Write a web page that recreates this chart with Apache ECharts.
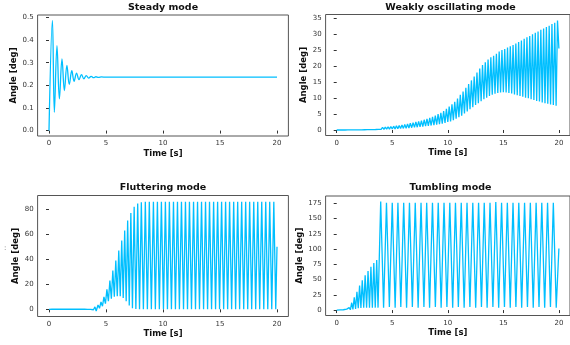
<!DOCTYPE html>
<html>
<head>
<meta charset="utf-8">
<script src="https://cdn.jsdelivr.net/npm/echarts@6/dist/echarts.min.js"></script>
<style>
  html, body { margin: 0; padding: 0; background: #fff; }
  #chart { width: 570px; height: 345px; }
</style>
</head>
<body>
<div id="chart"></div>
<script>
// panel titles, in order: top-left, top-right, bottom-left, bottom-right
const titles = ['Steady mode', 'Weakly oscillating mode', 'Fluttering mode', 'Tumbling mode']

// tick labels
const timeTicks = [0, 5, 10, 15, 20]
const steadyTicks = [0, 0.1, 0.2, 0.3, 0.4, 0.5]
const weakTicks = [0, 5, 10, 15, 20, 25, 30, 35]
const flutterTicks = [0, 20, 40, 60, 80]
const tumbleTicks = [0, 25, 50, 75, 100, 125, 150, 175]

// [time s, angle deg] (peaks / troughs)
const steadyData = [
  [0, 0], [0.3, 0.487], [0.47, 0.081], [0.7, 0.376], [0.91, 0.14], [1.14, 0.317], [1.35, 0.177],
  [1.57, 0.288], [1.78, 0.204], [2.0, 0.265], [2.2, 0.218], [2.42, 0.254], [2.63, 0.225],
  [2.85, 0.247], [3.06, 0.229], [3.27, 0.243], [3.48, 0.232], [3.7, 0.24], [3.91, 0.234],
  [4.12, 0.238], [4.34, 0.235], [4.6, 0.237], [5.0, 0.236], [20, 0.236]
]

const weakData = [
  [0, 0], [0.125, 0.3], [0.25, 0], [0.375, 0.3], [0.5, 0], [0.625, 0.3], [0.75, 0], [0.875, 0.32],
  [1, 0.02], [1.125, 0.33], [1.25, 0.02], [1.375, 0.35], [1.5, 0.03], [1.625, 0.38], [1.75, 0.04], [1.875, 0.42],
  [2, 0.05], [2.125, 0.44], [2.25, 0.06], [2.375, 0.47], [2.5, 0.08], [2.625, 0.5], [2.75, 0.1], [2.875, 0.55],
  [3, 0.11], [3.125, 0.6], [3.25, 0.13], [3.375, 0.65], [3.5, 0.15], [3.625, 0.72], [3.75, 0.18], [3.875, 0.8],
  [4, 0.2], [4.125, 0.86], [4.25, 0.22], [4.375, 0.92], [4.5, 0.25], [4.625, 1.0], [4.75, 0.28], [4.875, 1.1],
  [5, 0.3], [5.125, 1.2], [5.25, 0.33], [5.375, 1.3], [5.5, 0.38], [5.625, 1.42], [5.75, 0.44], [5.875, 1.6],
  [6, 0.5], [6.125, 1.72], [6.25, 0.55], [6.375, 1.9], [6.5, 0.62], [6.625, 2.1], [6.75, 0.72], [6.875, 2.3],
  [7, 0.8], [7.125, 2.5], [7.25, 0.87], [7.375, 2.7], [7.5, 0.95], [7.625, 2.95], [7.75, 1.05], [7.875, 3.2],
  [8, 1.2], [8.125, 3.5], [8.25, 1.25], [8.375, 3.8], [8.5, 1.4], [8.625, 4.1], [8.75, 1.55], [8.875, 4.5],
  [9, 1.7], [9.125, 5.0], [9.25, 1.85], [9.375, 5.4], [9.5, 2.0], [9.625, 5.9], [9.75, 2.2], [9.875, 6.6],
  [10, 2.5], [10.125, 7.3], [10.25, 2.7], [10.375, 8.0], [10.5, 3.1], [10.625, 8.8], [10.75, 3.5], [10.875, 9.8],
  [11, 4.0], [11.125, 11.0], [11.25, 4.5], [11.375, 12.0], [11.5, 5.2], [11.625, 13.2], [11.75, 5.8], [11.875, 14.4],
  [12, 6.5], [12.125, 15.5], [12.25, 7.1], [12.375, 16.7], [12.5, 7.8], [12.625, 18.0], [12.75, 8.4], [12.875, 19.2],
  [13, 9.0], [13.125, 20.3], [13.25, 9.6], [13.375, 21.2], [13.5, 10.1], [13.625, 22.0], [13.75, 10.6], [13.875, 22.7],
  [14, 11.0], [14.125, 23.2], [14.25, 11.3], [14.375, 23.8], [14.5, 11.6], [14.625, 24.5], [14.75, 11.7], [14.875, 25.0],
  [15, 11.8], [15.125, 25.3], [15.25, 11.7], [15.375, 25.8], [15.5, 11.6], [15.625, 26.2], [15.75, 11.4], [15.875, 26.6],
  [16, 11.1], [16.125, 27.0], [16.25, 10.9], [16.375, 27.5], [16.5, 10.6], [16.625, 28.0], [16.75, 10.4], [16.875, 28.5],
  [17, 10.1], [17.125, 29.0], [17.25, 9.9], [17.375, 29.4], [17.5, 9.6], [17.625, 29.9], [17.75, 9.4], [17.875, 30.4],
  [18, 9.1], [18.125, 30.8], [18.25, 8.9], [18.375, 31.3], [18.5, 8.6], [18.625, 31.7], [18.75, 8.4], [18.875, 32.2],
  [19, 8.2], [19.125, 32.6], [19.25, 8.0], [19.375, 33.1], [19.5, 7.8], [19.625, 33.5], [19.75, 7.6], [19.875, 34.2],
  [20, 25.5]
]

const flutterData = [
  [0, 0], [0.13, 0.6], [0.26, 0.1], [0.39, 0.7], [0.52, 0.1], [0.65, 0.7], [0.78, 0.1], [0.91, 0.7],
  [1.04, 0.1], [1.17, 0.8], [1.3, 0.1], [1.43, 0.8], [1.56, 0.1], [1.69, 0.8], [1.82, 0.1], [1.95, 0.9],
  [2.08, 0.1], [2.21, 0.9], [2.34, 0.1], [2.47, 1.0], [2.6, 0.1], [2.73, 1.0], [2.86, 0.1], [2.99, 1.1],
  [3.12, 0.1], [3.25, 1.2], [3.38, 0], [3.51, 1.3], [3.64, 0], [3.77, 1.5], [3.9, -0.3],
  [4.03, 2.0], [4.14, -1.3], [4.3, 3.5], [4.43, 0.8], [4.56, 6], [4.69, 2.5], [4.82, 10], [4.95, 4.5],
  [5.08, 16], [5.21, 6.5], [5.34, 23], [5.47, 8.5], [5.6, 31], [5.73, 10], [5.86, 39], [5.99, 10.5],
  [6.12, 47], [6.25, 10.5], [6.38, 55], [6.51, 9], [6.64, 63], [6.77, 6.5], [6.9, 71], [7.04, 3],
  [7.18, 77], [7.32, 0.8], [7.47, 82], [7.62, 0.2], [7.78, 84.5], [7.94, 0],
  [8.1, 85.5], [8.28, 0], [8.45, 86], [8.63, 0], [8.8, 86], [8.98, 0], [9.16, 86], [9.33, 0],
  [9.51, 86], [9.68, 0], [9.86, 86], [10.04, 0], [10.21, 86], [10.39, 0], [10.56, 86], [10.74, 0],
  [10.92, 86], [11.09, 0], [11.27, 86], [11.44, 0], [11.62, 86], [11.8, 0], [11.97, 86], [12.15, 0],
  [12.32, 86], [12.5, 0], [12.68, 86], [12.85, 0], [13.03, 86], [13.2, 0], [13.38, 86], [13.56, 0],
  [13.73, 86], [13.91, 0], [14.08, 86], [14.26, 0], [14.44, 86], [14.61, 0], [14.79, 86], [14.96, 0],
  [15.14, 86], [15.32, 0], [15.49, 86], [15.67, 0], [15.84, 86], [16.02, 0], [16.2, 86], [16.37, 0],
  [16.55, 86], [16.72, 0], [16.9, 86], [17.08, 0], [17.25, 86], [17.43, 0], [17.6, 86], [17.78, 0],
  [17.96, 86], [18.13, 0], [18.31, 86], [18.48, 0], [18.66, 86], [18.84, 0], [19.01, 86], [19.19, 0],
  [19.36, 86], [19.54, 0], [19.72, 86], [19.89, 0], [20, 50]
]

const tumbleData = [
  [0, 0], [0.3, 0.3], [0.45, 0.1], [0.6, 0.5], [0.75, 0.2], [0.9, 1.5], [1.0, 0.3], [1.12, 4],
  [1.23, 0.5], [1.35, 12], [1.46, 1], [1.58, 21], [1.7, 2], [1.82, 30], [1.94, 3], [2.06, 40],
  [2.18, 3.5], [2.3, 49], [2.43, 4], [2.56, 57], [2.69, 4], [2.82, 64], [2.95, 4], [3.08, 71],
  [3.21, 4], [3.34, 77], [3.47, 4], [3.6, 82], [3.72, 4],
  [3.96, 178], [4.22, 4], [4.48, 176], [4.74, 5], [5.0, 176], [5.26, 4], [5.51, 176], [5.77, 5],
  [6.03, 176], [6.29, 4], [6.55, 176], [6.81, 5], [7.07, 176], [7.33, 4], [7.59, 176], [7.85, 5],
  [8.1, 176], [8.36, 4], [8.62, 176], [8.88, 5], [9.14, 176], [9.4, 4], [9.66, 176], [9.92, 5],
  [10.18, 176], [10.44, 4], [10.69, 176], [10.95, 5], [11.21, 176], [11.47, 4], [11.73, 176], [11.99, 5],
  [12.25, 176], [12.51, 4], [12.77, 176], [13.03, 5], [13.28, 176], [13.54, 4], [13.8, 176], [14.06, 5],
  [14.32, 177], [14.58, 4], [14.84, 176], [15.1, 5], [15.36, 176], [15.62, 4], [15.87, 176], [16.13, 5],
  [16.39, 176], [16.65, 4], [16.91, 176], [17.17, 5], [17.43, 176], [17.69, 4], [17.95, 176], [18.21, 5],
  [18.46, 176], [18.72, 4], [18.98, 176], [19.24, 5], [19.5, 176], [19.76, 4], [20, 101]
]

const FONT = 'DejaVu Sans'
const LINE_COLOR = '#00bfff'

// panel boxes (pixel layout of the matplotlib axes)
const panels = [
  { left: 37.6, top: 15, width: 250.8, height: 121, yMin: -0.024, yMax: 0.511, ticks: steadyTicks, digits: 1, nameGap: 16, titleX: 163, titleY: 2.5, data: steadyData, smooth: 0.4 },
  { left: 325.6, top: 14.5, width: 249.7, height: 121, yMin: -1.72, yMax: 36.1, ticks: weakTicks, digits: 0, nameGap: 11, titleX: 450.5, titleY: 2.5, data: weakData, smooth: false },
  { left: 37.6, top: 195.5, width: 250.8, height: 121, yMin: -5.7, yMax: 90.9, ticks: flutterTicks, digits: 0, nameGap: 11, titleX: 163, titleY: 183, data: flutterData, smooth: false },
  { left: 325.6, top: 196, width: 249.7, height: 119.5, yMin: -8.9, yMax: 186.9, ticks: tumbleTicks, digits: 0, nameGap: 15, titleX: 450.5, titleY: 183, data: tumbleData, smooth: false }
]

const chart = echarts.init(document.getElementById('chart'), null, { renderer: 'canvas' })

const option = {
  animation: false,
  backgroundColor: '#fff',
  title: panels.map((p, i) => ({
    text: titles[i],
    left: p.titleX,
    top: p.titleY,
    textAlign: 'center',
    padding: 0,
    textStyle: { fontFamily: FONT, fontWeight: 'bold', fontSize: 9.5, color: '#111' }
  })),
  grid: panels.map(p => ({
    left: p.left, top: p.top, width: p.width, height: p.height,
    show: true, borderColor: '#555', borderWidth: 1, backgroundColor: 'transparent'
  })),
  xAxis: panels.map((p, i) => ({
    gridIndex: i,
    type: 'value',
    min: -1,
    max: 21,
    name: 'Time [s]',
    nameLocation: 'middle',
    nameGap: 13,
    nameTextStyle: { fontFamily: FONT, fontWeight: 'bold', fontSize: 8.5, color: '#111' },
    axisLine: { show: false },
    axisTick: { show: true, length: 3, lineStyle: { color: '#333' }, customValues: timeTicks },
    axisLabel: { fontFamily: FONT, fontSize: 7, color: '#333', margin: 4, customValues: timeTicks },
    splitLine: { show: false }
  })),
  yAxis: panels.map((p, i) => ({
    gridIndex: i,
    type: 'value',
    min: p.yMin,
    max: p.yMax,
    name: 'Angle [deg]',
    nameLocation: 'middle',
    nameGap: p.nameGap,
    nameTextStyle: { fontFamily: FONT, fontWeight: 'bold', fontSize: 8.5, color: '#111' },
    axisLine: { show: false },
    axisTick: { show: true, length: 3, lineStyle: { color: '#333' }, customValues: p.ticks },
    axisLabel: {
      fontFamily: FONT, fontSize: 7, color: '#333', margin: 4, customValues: p.ticks,
      formatter: v => v.toFixed(p.digits)
    },
    splitLine: { show: false }
  })),
  series: panels.map((p, i) => ({
    type: 'line',
    xAxisIndex: i,
    yAxisIndex: i,
    data: p.data,
    smooth: p.smooth,
    symbol: 'none',
    clip: true,
    lineStyle: { color: LINE_COLOR, width: 1.3 }
  })),
  graphic: [
    { type: 'text', left: 4, top: 245, style: { text: ':', fontSize: 7, fill: '#666', fontFamily: FONT } }
  ]
}

chart.setOption(option)
window.addEventListener('resize', () => chart.resize())
</script>
</body>
</html>
